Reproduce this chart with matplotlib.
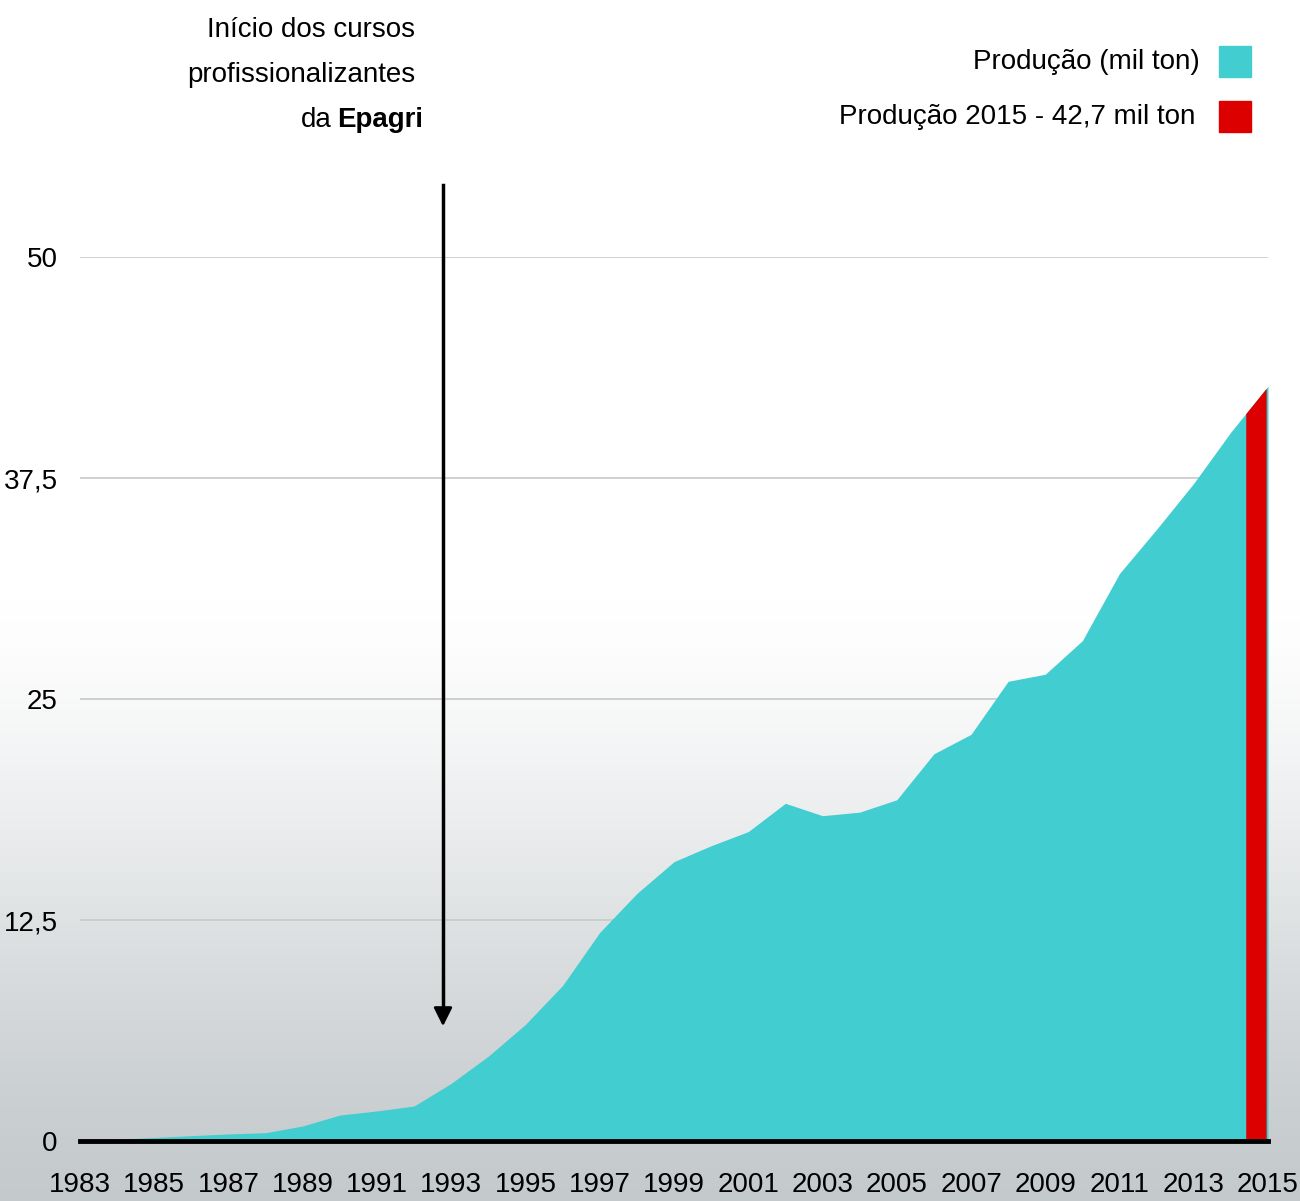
import numpy as np
import matplotlib
matplotlib.use("Agg")
import matplotlib.pyplot as plt
from matplotlib.patches import Rectangle

plt.rcParams['font.family'] = ['Liberation Sans', 'DejaVu Sans']

# --- data (mil ton) ---
years = np.arange(1983, 2016)
production = [0.0, 0.1, 0.2, 0.3, 0.4, 0.47, 0.85, 1.47, 1.7, 1.98,
              3.26, 4.8, 6.6, 8.8, 11.8, 14.0, 15.8, 16.7, 17.5, 19.1,
              18.4, 18.6, 19.3, 21.9, 23.0, 26.0, 26.4, 28.3, 32.1, 34.6,
              37.2, 40.1, 42.7]
highlight_span = [2014.4, 2014.95]  # red band for 2015
yticks = [0, 12.5, 25, 37.5, 50]
ytick_labels = ['0', '12,5', '25', '37,5', '50']
xticks = np.arange(1983, 2016, 2)

legend_labels = ['Produção (mil ton)', 'Produção 2015 - 42,7 mil ton']
cyan = '#42cdd0'
red = '#dd0000'

W, H = 1300, 1201
fig = plt.figure(figsize=(W / 100, H / 100), dpi=100)

# background: white fading to grey at the bottom
bg = fig.add_axes([0, 0, 1, 1], zorder=-10)
t = np.linspace(0, 1, 600)
s = np.clip((t - 0.50) / 0.50, 0, 1)
ramp = s * s * (3 - 2 * s)
ramp = 0.55 * ramp + 0.45 * np.clip((t - 0.5) / 0.5, 0, 1)
top_c = np.array([1.0, 1.0, 1.0])
bot_c = np.array([0.77, 0.79, 0.80])
grad = top_c[None, :] * (1 - ramp[:, None]) + bot_c[None, :] * ramp[:, None]
bg.imshow(grad[:, None, :], aspect='auto', extent=[0, 1, 0, 1])
bg.axis('off')

ax = fig.add_axes([80 / W, 1 - 1141 / H, (1268 - 80) / W, (1141 - 257) / H])
ax.patch.set_alpha(0)

ax.fill_between(years, 0, production, color=cyan, lw=0, zorder=2)
xr = np.array(highlight_span)
ax.fill_between(xr, 0, np.interp(xr, years, production), color=red, lw=0, zorder=3)

ax.axhline(0, color='black', lw=3.5, zorder=5, clip_on=False)

ax.set_xlim(1983, 2015)
ax.set_ylim(0, 50)
ax.set_yticks(yticks)
ax.set_yticklabels(ytick_labels)
ax.set_xticks(xticks)
ax.set_xticklabels([str(y) for y in xticks])
ax.tick_params(axis='y', length=0, pad=16, labelsize=20)
ax.tick_params(axis='x', length=0, pad=22, labelsize=20)
ax.grid(axis='y', color='#c8c8c8', lw=1.2, zorder=1)
ax.set_axisbelow(True)
for sp in ax.spines.values():
    sp.set_visible(False)

# annotation text and arrow
fs = 20
fig.text(415 / W, 1 - 30 / H, 'Início dos cursos', ha='right', va='center', fontsize=fs)
fig.text(415 / W, 1 - 75 / H, 'profissionalizantes', ha='right', va='center', fontsize=fs)
fig.text(332 / W, 1 - 120 / H, 'da', ha='right', va='center', fontsize=fs)
fig.text(423 / W, 1 - 120 / H, 'Epagri', ha='right', va='center', fontsize=fs, fontweight='bold')
fig.add_artist(plt.Line2D([443 / W, 443 / W], [1 - 185 / H, 1 - 1015 / H], color='black', lw=2.5))
ax.annotate('', xy=(443 / W, 1 - 1029 / H), xycoords='figure fraction',
            xytext=(443 / W, 1 - 1005 / H), textcoords='figure fraction',
            arrowprops=dict(arrowstyle='-|>', color='black', lw=2, mutation_scale=28),
            annotation_clip=False)

# legend
fig.text(1200 / W, 1 - 62 / H, legend_labels[0], ha='right', va='center', fontsize=fs)
fig.text(1195 / W, 1 - 117 / H, legend_labels[1], ha='right', va='center', fontsize=fs)
fig.add_artist(Rectangle((1219 / W, 1 - 77 / H), 32 / W, 31 / H, transform=fig.transFigure, color=cyan))
fig.add_artist(Rectangle((1219 / W, 1 - 132 / H), 32 / W, 31 / H, transform=fig.transFigure, color=red))

fig.savefig('out.png', dpi=100)
